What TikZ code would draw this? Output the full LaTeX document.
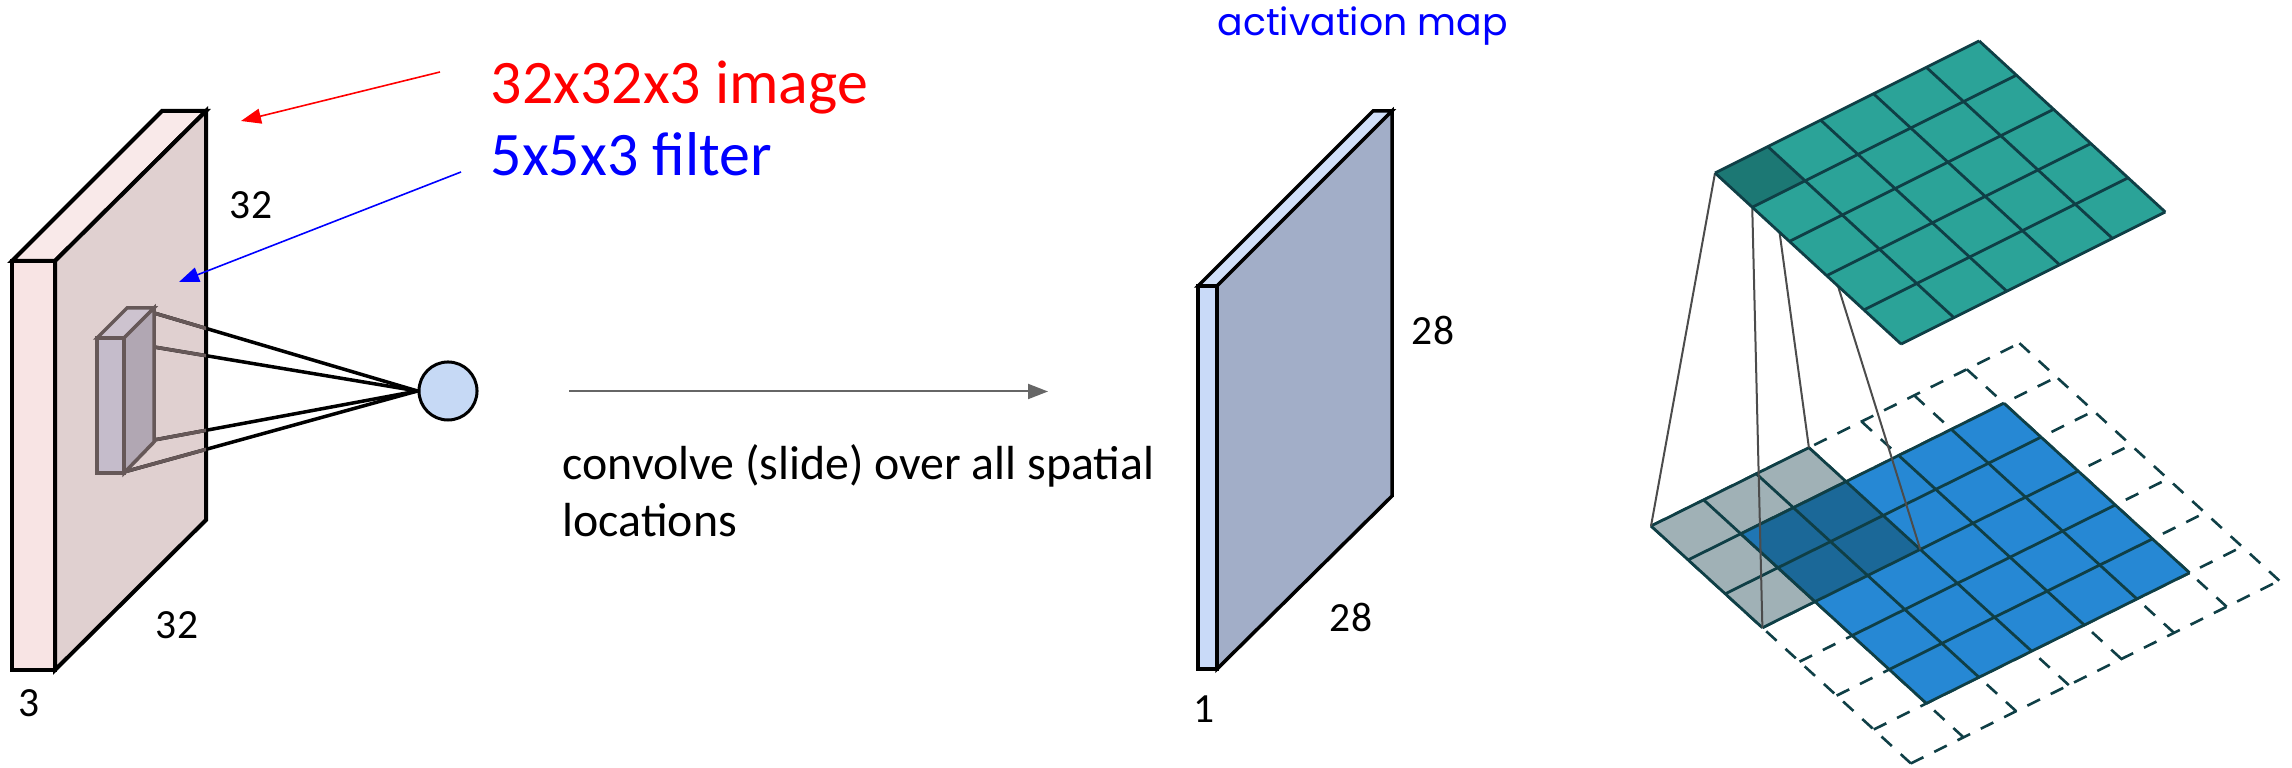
\documentclass[tikz,border=0pt]{standalone}
\usepackage{fontspec}
\setmainfont{Carlito}
\newfontfamily\wideface{Poppins}
\usetikzlibrary{arrows.meta}
\definecolor{platefront}{HTML}{F8E4E4}
\definecolor{plateside}{HTML}{E0D0D0}
\definecolor{platetop}{HTML}{F9E9E9}
\definecolor{filfront}{HTML}{C5BCCB}
\definecolor{filside}{HTML}{B1A7B3}
\definecolor{filtop}{HTML}{CDC3CF}
\definecolor{filline}{HTML}{665858}
\definecolor{neuron}{HTML}{C6D9F5}
\definecolor{mapfront}{HTML}{C9DAF8}
\definecolor{mapside}{HTML}{A2AEC8}
\definecolor{maptop}{HTML}{D0DFF8}
\definecolor{gridline}{HTML}{0F3F46}
\definecolor{cellgreen}{HTML}{2BA398}
\definecolor{cellgreendark}{HTML}{1C7874}
\definecolor{cellgray}{HTML}{A0B1B6}
\definecolor{cellblue}{HTML}{2688D4}
\definecolor{cellbluedark}{HTML}{1B6898}
\definecolor{cellbluemid}{HTML}{2076B4}
\newcommand{\cellpoly}[4]{(#1,#2)--(#3,#2)--(#3,#4)--(#1,#4)--cycle}
\tikzset{
  platestyle/.style={draw=black,line width=0.04cm,miter limit=6,line join=miter},
  filstyle/.style={draw=filline,line width=0.035cm,line join=miter},
  rayblack/.style={draw=black,line width=0.035cm},
  raygray/.style={draw=filline,line width=0.035cm},
  gridsolid/.style={draw=gridline,line width=0.028cm},
  griddash/.style={draw=gridline,line width=0.026cm,dash pattern=on 0.14cm off 0.12cm},
  projline/.style={draw=black!70,line width=0.02cm},
  lab/.style={inner sep=0pt,font=\fontsize{11.8pt}{14pt}\selectfont},
  bigred/.style={inner sep=0pt,anchor=base west,text=red,font=\fontsize{17.6pt}{20pt}\selectfont},
  bigblue/.style={inner sep=0pt,anchor=base west,text=blue,font=\fontsize{17.6pt}{20pt}\selectfont},
  bodytext/.style={inner sep=0pt,anchor=base west,font=\fontsize{13.6pt}{16pt}\selectfont},
  tipped/.style={-{Triangle[length=0.2cm,width=0.15cm]}}
}
\begin{document}
\begin{tikzpicture}[x=0.01cm,y=-0.01cm]
\useasboundingbox (0,0) rectangle (2292,768);
% left volume
\coordinate (pa) at (12,261); \coordinate (pb) at (55,261);
\coordinate (pc) at (55,670); \coordinate (pd) at (12,670);
\coordinate (pe) at (162,111); \coordinate (pf) at (206,111);
\coordinate (pg) at (206,520);
\filldraw[platestyle,fill=platetop] (pa)--(pe)--(pf)--(pb)--cycle;
\filldraw[platestyle,fill=plateside] (pb)--(pf)--(pg)--(pc)--cycle;
\filldraw[platestyle,fill=platefront] (pa)--(pb)--(pc)--(pd)--cycle;
% neuron and rays
\node[draw=black,line width=0.03cm,fill=neuron,inner sep=0pt,
  shape=circle,minimum size=0.58cm] (neuron) at (448,391) {};
\coordinate (apex) at (neuron.west);
\coordinate (r1) at (154,313); \coordinate (r2) at (124,342);
\coordinate (r3) at (154,440); \coordinate (r4) at (124,472);
\foreach \r in {r1,r2,r3,r4} \draw[rayblack] (\r)--(apex);
\begin{scope}
\clip (pb)--(pf)--(pg)--(pc)--cycle;
\foreach \r in {r1,r2,r3,r4} \draw[raygray] (\r)--(apex);
\end{scope}
% filter
\coordinate (fa) at (97,338); \coordinate (fb) at (124,338);
\coordinate (fc) at (124,473); \coordinate (fd) at (97,473);
\coordinate (fe) at (127,308); \coordinate (ff) at (154,308);
\coordinate (fg) at (154,442);
\filldraw[filstyle,fill=filtop] (fa)--(fe)--(ff)--(fb)--cycle;
\filldraw[filstyle,fill=filside] (fb)--(ff)--(fg)--(fc)--cycle;
\filldraw[filstyle,fill=filfront] (fa)--(fb)--(fc)--(fd)--cycle;
% arrows and big labels
\node[bigred] (imglab) at (490,104) {32x32x3 image};
\node[bigblue] (fillab) at (490,176) {5x5x3 filter};
\coordinate (redstart) at (440,72); \coordinate (redtip) at (241,121);
\coordinate (bluestart) at (461,172); \coordinate (bluetip) at (179,282);
\draw[tipped,red,line width=0.016cm] (redstart)--(redtip);
\draw[tipped,blue,line width=0.016cm] (bluestart)--(bluetip);
\node[lab] (l32a) at (251,205) {32};
\node[lab] (l32b) at (177,625) {32};
\node[lab] (l3) at (29,703) {3};
% centre arrow and text
\coordinate (cs) at (569,391.5); \coordinate (ce) at (1048,391.5);
\draw[tipped,draw=black!60,fill=black!60,line width=0.02cm] (cs)--(ce);
\node[bodytext] (conv1) at (562,480) {convolve (slide) over all spatial};
\node[bodytext] (conv2) at (562,537) {locations};
% middle volume
\coordinate (ma) at (1198,286); \coordinate (mb) at (1217,286);
\coordinate (mc) at (1217,669); \coordinate (md) at (1198,669);
\coordinate (me) at (1373,111); \coordinate (mf) at (1392,111);
\coordinate (mg) at (1392,496);
\filldraw[platestyle,line width=0.035cm,fill=maptop] (ma)--(me)--(mf)--(mb)--cycle;
\filldraw[platestyle,line width=0.035cm,fill=mapside] (mb)--(mf)--(mg)--(mc)--cycle;
\filldraw[platestyle,line width=0.035cm,fill=mapfront] (ma)--(mb)--(mc)--(md)--cycle;
\node[lab] (m28a) at (1433,330) {28};
\node[lab] (m28b) at (1351,617) {28};
\node[lab] (m1) at (1204,709) {1};
\node[inner sep=0pt,anchor=base west,text=blue,font=\wideface\fontsize{10.75pt}{12pt}\selectfont] (actlab) at (1217,36) {activation map};
% lower grids
\coordinate (q1) at (1700,500); \coordinate (q2) at (1759,500);
\coordinate (q3) at (1759,600); \coordinate (q4) at (1700,600);
\begin{scope}[shift={(1651,526)},x={(0.526cm,0.261cm)},y={(0.371cm,-0.339cm)}]
\foreach \i in {0,...,7} {
  \draw[griddash] (\i,0)--(\i,7);
  \draw[griddash] (0,\i)--(7,\i);
}
\fill[cellgray] \cellpoly{0}{0}{3}{3};
\foreach \i in {0,...,3} {
  \draw[gridsolid] (\i,0)--(\i,3);
  \draw[gridsolid] (0,\i)--(3,\i);
}
\fill[cellblue] \cellpoly{1}{1}{6}{6};
\fill[cellbluedark] \cellpoly{1}{1}{3}{3};
\begin{scope}
\clip \cellpoly{1}{1}{3}{3};
\fill[cellbluemid] (q1)--(q2)--(q3)--(q4)--cycle;
\end{scope}
\foreach \i in {1,...,6} {
  \draw[gridsolid] (\i,1)--(\i,6);
  \draw[gridsolid] (1,\i)--(6,\i);
}
\coordinate (gA) at (0,0);
\coordinate (gB) at (0,3);
\coordinate (gC) at (3,0);
\coordinate (gD) at (3,3);
\end{scope}
% upper grid
\begin{scope}[shift={(1715,173)},x={(0.528cm,0.264cm)},y={(0.372cm,-0.342cm)}]
\coordinate (tA) at (0,0);
\coordinate (tB) at (0,1);
\coordinate (tC) at (1,0);
\coordinate (tD) at (1,1);
\end{scope}
\draw[projline] (tA)--(gA);
\draw[projline] (tB)--(gB);
\draw[projline] (tC)--(gC);
\draw[projline] (tD)--(gD);
\begin{scope}[shift={(1715,173)},x={(0.528cm,0.264cm)},y={(0.372cm,-0.342cm)}]
\fill[cellgreen] \cellpoly{0}{0}{5}{5};
\fill[cellgreendark] \cellpoly{0}{0}{1}{1};
\foreach \i in {0,...,5} {
  \draw[gridsolid] (\i,0)--(\i,5);
  \draw[gridsolid] (0,\i)--(5,\i);
}
\end{scope}
\end{tikzpicture}
\end{document}
